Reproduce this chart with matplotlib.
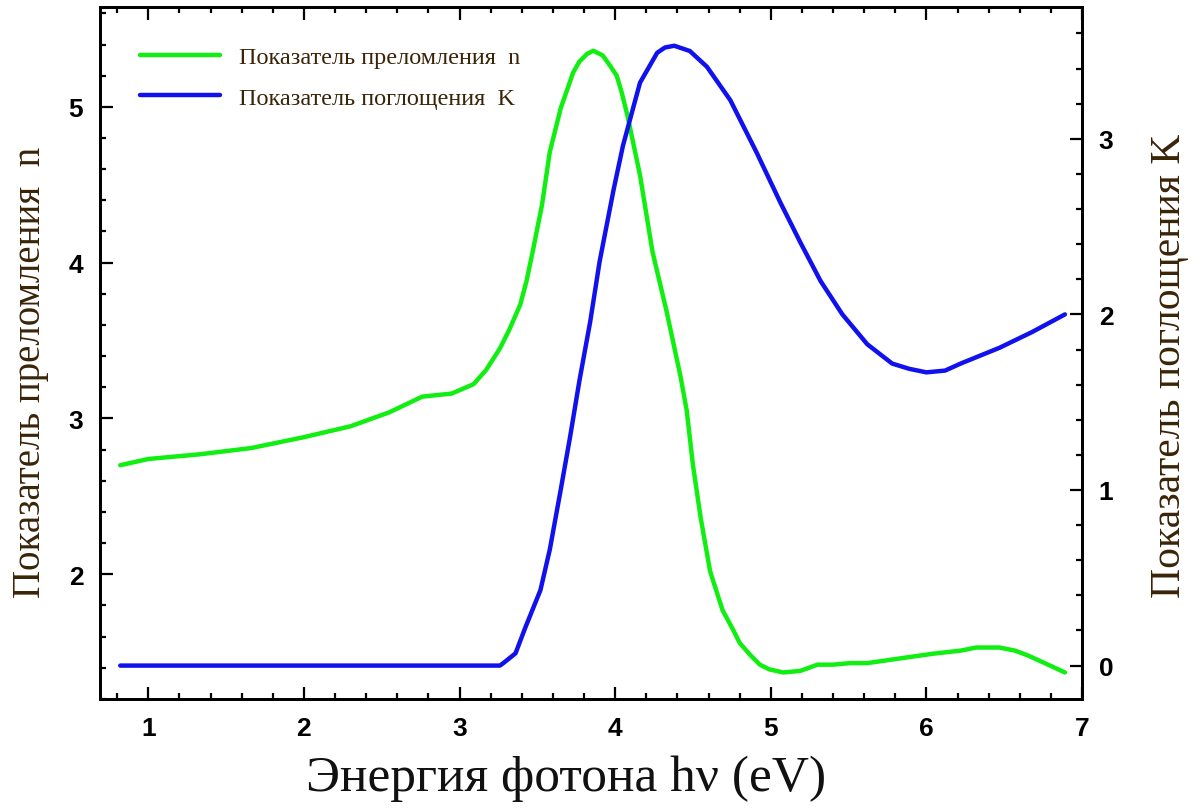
import matplotlib
matplotlib.use("Agg")
import matplotlib.pyplot as plt
from matplotlib.ticker import MultipleLocator

# Показатель преломления n (левая ось)
energia_n = [0.82, 1.00, 1.33, 1.66, 2.00, 2.30, 2.55, 2.76, 2.95, 3.09, 3.17, 3.26,
             3.32, 3.39, 3.43, 3.47, 3.53, 3.58, 3.65, 3.73, 3.77, 3.82, 3.86, 3.92,
             3.97, 4.01, 4.04, 4.08, 4.16, 4.24, 4.33, 4.42, 4.46, 4.50, 4.55, 4.61,
             4.69, 4.76, 4.80, 4.87, 4.93, 4.99, 5.08, 5.19, 5.30, 5.40, 5.51, 5.62,
             5.83, 6.04, 6.22, 6.32, 6.47, 6.57, 6.65, 6.76, 6.89]
n_vals = [2.70, 2.74, 2.77, 2.81, 2.88, 2.95, 3.04, 3.14, 3.16, 3.22, 3.31, 3.45,
          3.57, 3.73, 3.88, 4.07, 4.37, 4.71, 4.99, 5.22, 5.29, 5.34, 5.36, 5.33,
          5.26, 5.20, 5.10, 4.94, 4.56, 4.07, 3.69, 3.27, 3.05, 2.70, 2.36, 2.02,
          1.77, 1.64, 1.56, 1.48, 1.42, 1.39, 1.37, 1.38, 1.42, 1.42, 1.43, 1.43,
          1.46, 1.49, 1.51, 1.53, 1.53, 1.51, 1.48, 1.43, 1.37]

# Показатель поглощения K (правая ось)
energia_k = [0.82, 2.00, 3.26, 3.29, 3.36, 3.42, 3.52, 3.58, 3.65, 3.71, 3.77, 3.84,
             3.90, 3.99, 4.05, 4.12, 4.16, 4.27, 4.32, 4.38, 4.48, 4.59, 4.74, 4.91,
             5.06, 5.19, 5.32, 5.46, 5.62, 5.78, 5.89, 6.00, 6.12, 6.22, 6.47, 6.68,
             6.89]
k_vals = [0.0, 0.0, 0.0, 0.02, 0.07, 0.21, 0.43, 0.66, 1.00, 1.30, 1.62, 1.96,
          2.30, 2.71, 2.96, 3.19, 3.32, 3.49, 3.52, 3.53, 3.50, 3.41, 3.22, 2.92,
          2.64, 2.41, 2.19, 2.00, 1.83, 1.72, 1.69, 1.67, 1.68, 1.72, 1.81, 1.90,
          2.00]

color_texto = '#3a2408'

fig = plt.figure(figsize=(12.02, 8.12), dpi=100)
ax = fig.add_axes([0.0832, 0.138, 0.817, 0.852])
ax2 = ax.twinx()

l1, = ax.plot(energia_n, n_vals, color='#11ee11', lw=3.2, solid_capstyle='round',
              solid_joinstyle='round')
l2, = ax2.plot(energia_k, k_vals, color='#1111ee', lw=3.2, solid_capstyle='round',
               solid_joinstyle='round')

ax.set_xlim(0.69, 7.0)
ax.set_ylim(1.2, 5.64)
ax2.set_ylim(-0.19, 3.75)

ax.xaxis.set_major_locator(MultipleLocator(1))
ax.xaxis.set_minor_locator(MultipleLocator(0.2))
ax.yaxis.set_major_locator(MultipleLocator(1))
ax.yaxis.set_minor_locator(MultipleLocator(0.2))
ax2.yaxis.set_major_locator(MultipleLocator(1))
ax2.yaxis.set_minor_locator(MultipleLocator(0.2))

fuente_ticks = {'family': 'Liberation Sans', 'size': 19, 'weight': 'bold'}
ax.tick_params(axis='x', which='both', direction='in', top=True, width=1.6)
ax.tick_params(axis='x', which='major', length=9, pad=12)
ax.tick_params(axis='x', which='minor', length=4.5)
ax.tick_params(axis='y', which='both', direction='in', width=1.6)
ax.tick_params(axis='y', which='major', length=9, pad=12)
ax.tick_params(axis='y', which='minor', length=4.5)
ax2.tick_params(axis='y', which='both', direction='in', width=1.6)
ax2.tick_params(axis='y', which='major', length=9, pad=12)
ax2.tick_params(axis='y', which='minor', length=4.5)

for lab in ax.get_xticklabels() + ax.get_yticklabels() + ax2.get_yticklabels():
    lab.set_fontproperties(fuente_ticks)

for s in ax.spines.values():
    s.set_linewidth(2)
for s in ax2.spines.values():
    s.set_linewidth(2)

ax.set_xlabel('Энергия фотона hν (eV)', family='Liberation Serif', fontsize=37,
              color='#111111')
ax.xaxis.set_label_coords(0.475, -0.080, transform=ax.transAxes)
ax.xaxis.label.set_verticalalignment('top')
ax.set_ylabel('Показатель преломления  n', family='Liberation Serif', fontsize=28,
              color=color_texto)
ax.yaxis.set_label_coords(-0.071, 0.474)
ax.yaxis.label.set_verticalalignment('center')
ax2.set_ylabel('Показатель поглощения K', family='Liberation Serif', fontsize=30,
               color=color_texto)
ax2.yaxis.set_label_coords(1.089, 0.483)
ax2.yaxis.label.set_verticalalignment('center')

ax.legend([l1, l2], ['Показатель преломления  n', 'Показатель поглощения  K'],
          loc='upper left', bbox_to_anchor=(0.018, 0.975), frameon=False,
          prop={'family': 'Liberation Serif', 'size': 17.5}, handlelength=3.3,
          handletextpad=0.8, labelspacing=0.75, labelcolor=color_texto)

fig.savefig('out.png', dpi=100)
